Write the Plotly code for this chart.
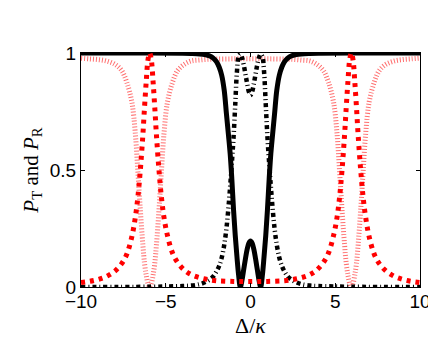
import plotly.graph_objects as go

# ---- data ----
x_black = [-10, -6, -4, -3.5, -3, -2.7, -2.4, -2.2, -2.0, -1.85, -1.7, -1.55, -1.42, -1.3, -1.2, -1.1,
           -1.0, -0.9, -0.8, -0.7, -0.6, -0.5, -0.4, -0.3, -0.2, -0.1, 0,
           0.1, 0.2, 0.3, 0.4, 0.5, 0.6, 0.7, 0.8, 0.9, 1.0,
           1.1, 1.2, 1.3, 1.42, 1.55, 1.7, 1.85, 2.0, 2.2, 2.4, 2.7, 3, 3.5, 4, 6, 10]

p_t_solid = [1.0, 1.0, 0.999, 0.998, 0.996, 0.993, 0.987, 0.978, 0.962, 0.94, 0.905, 0.84, 0.74, 0.65, 0.57, 0.46,
             0.33, 0.22, 0.13, 0.05, 0.0, 0.03, 0.075, 0.12, 0.16, 0.187, 0.197,
             0.187, 0.16, 0.12, 0.075, 0.03, 0.0, 0.05, 0.13, 0.22, 0.33,
             0.46, 0.57, 0.65, 0.74, 0.84, 0.905, 0.94, 0.962, 0.978, 0.987, 0.993, 0.996, 0.998, 0.999, 1.0, 1.0]

p_r_dashdot = [0.0, 0.001, 0.004, 0.006, 0.012, 0.02, 0.032, 0.045, 0.067, 0.09, 0.125, 0.18, 0.25, 0.34, 0.43, 0.53,
               0.64, 0.78, 0.92, 0.985, 0.995, 0.98, 0.95, 0.91, 0.87, 0.835, 0.82,
               0.835, 0.87, 0.91, 0.95, 0.98, 0.995, 0.985, 0.92, 0.78, 0.64,
               0.53, 0.43, 0.34, 0.25, 0.18, 0.125, 0.09, 0.067, 0.045, 0.032, 0.02, 0.012, 0.006, 0.004, 0.001, 0.0]

x_red = [-10, -9.5, -9, -8.5, -8, -7.6, -7.3, -7.0, -6.8, -6.65, -6.5, -6.35, -6.25, -6.15, -6.05, -5.95,
         -5.85, -5.75, -5.65, -5.55, -5.4, -5.25, -5.1, -4.9, -4.6, -4.3, -3.9, -3.5, -3.0, -2.5, -2.0, -1.0,
         0,
         1.0, 2.0, 2.5, 3.0, 3.5, 3.9, 4.3, 4.6, 4.9, 5.1, 5.25, 5.4, 5.55, 5.65, 5.75, 5.85,
         5.95, 6.05, 6.15, 6.25, 6.35, 6.5, 6.65, 6.8, 7.0, 7.3, 7.6, 8, 8.5, 9, 9.5, 10]

red_dashed = [0.019, 0.024, 0.032, 0.045, 0.068, 0.1, 0.14, 0.215, 0.295, 0.38, 0.5, 0.65, 0.77, 0.88, 0.97, 1.0,
              0.97, 0.88, 0.77, 0.65, 0.5, 0.38, 0.295, 0.22, 0.145, 0.105, 0.072, 0.053, 0.04, 0.032, 0.027, 0.024,
              0.023,
              0.024, 0.027, 0.032, 0.04, 0.053, 0.072, 0.105, 0.145, 0.22, 0.295, 0.38, 0.5, 0.65, 0.77, 0.88, 0.97,
              1.0, 0.97, 0.88, 0.77, 0.65, 0.5, 0.38, 0.295, 0.215, 0.14, 0.1, 0.068, 0.045, 0.032, 0.024, 0.019]

pink_dotted = [0.978, 0.975, 0.972, 0.966, 0.952, 0.925, 0.875, 0.79, 0.66, 0.5, 0.33, 0.18, 0.1, 0.05, 0.015, 0.0,
               0.015, 0.05, 0.1, 0.18, 0.33, 0.5, 0.66, 0.79, 0.875, 0.925, 0.952, 0.966, 0.97, 0.973, 0.974, 0.975,
               0.975,
               0.975, 0.974, 0.973, 0.97, 0.966, 0.952, 0.925, 0.875, 0.79, 0.66, 0.5, 0.33, 0.18, 0.1, 0.05, 0.015,
               0.0, 0.015, 0.05, 0.1, 0.18, 0.33, 0.5, 0.66, 0.79, 0.875, 0.925, 0.952, 0.966, 0.972, 0.975, 0.978]

x_ticks = [-10, -5, 0, 5, 10]
y_ticks = [0, 0.5, 1]
y_ticklabels = ["0", "0.5", "1"]

fig = go.Figure()
fig.add_trace(go.Scatter(x=x_red, y=pink_dotted, mode="lines", line_shape="spline",
                         line=dict(color="rgba(255,50,50,0.7)", width=5, dash="1px,2px")))
fig.add_trace(go.Scatter(x=x_black, y=p_t_solid, mode="lines", line_shape="spline",
                         line=dict(color="black", width=5)))
fig.add_trace(go.Scatter(x=x_black, y=p_r_dashdot, mode="lines", line_shape="spline",
                         line=dict(color="black", width=4.5, dash="4px,3px,1px,3px")))
fig.add_trace(go.Scatter(x=x_red, y=red_dashed, mode="lines", line_shape="spline",
                         line=dict(color="red", width=5, dash="4px,5px")))

axis_common = dict(showline=True, linecolor="black", linewidth=1, mirror="ticks",
                   ticks="inside", ticklen=4, tickcolor="black", showgrid=False, zeroline=False,
                   tickfont=dict(family="Liberation Sans, Arial", size=19, color="black"))

fig.update_xaxes(range=[-10, 10], tickvals=x_ticks, ticklabelstandoff=-3, **axis_common)
fig.update_yaxes(range=[0, 1], tickvals=y_ticks, ticktext=y_ticklabels, **axis_common,
                 title=dict(text="<i>P</i><sub>T</sub> and <i>P</i><sub>R</sub>",
                            font=dict(family="Liberation Serif, serif", size=21, color="black"),
                            standoff=5))

fig.add_annotation(text="Δ/<i>κ</i>", xref="paper", yref="paper", x=0.5, y=0,
                   xanchor="center", yanchor="top", yshift=-24, showarrow=False,
                   font=dict(family="Liberation Serif, serif", size=22, color="black"))

fig.update_layout(width=436, height=344, showlegend=False,
                  margin=dict(l=73, r=24, t=45, b=65),
                  plot_bgcolor="white", paper_bgcolor="white")

fig.write_html("out.html")
